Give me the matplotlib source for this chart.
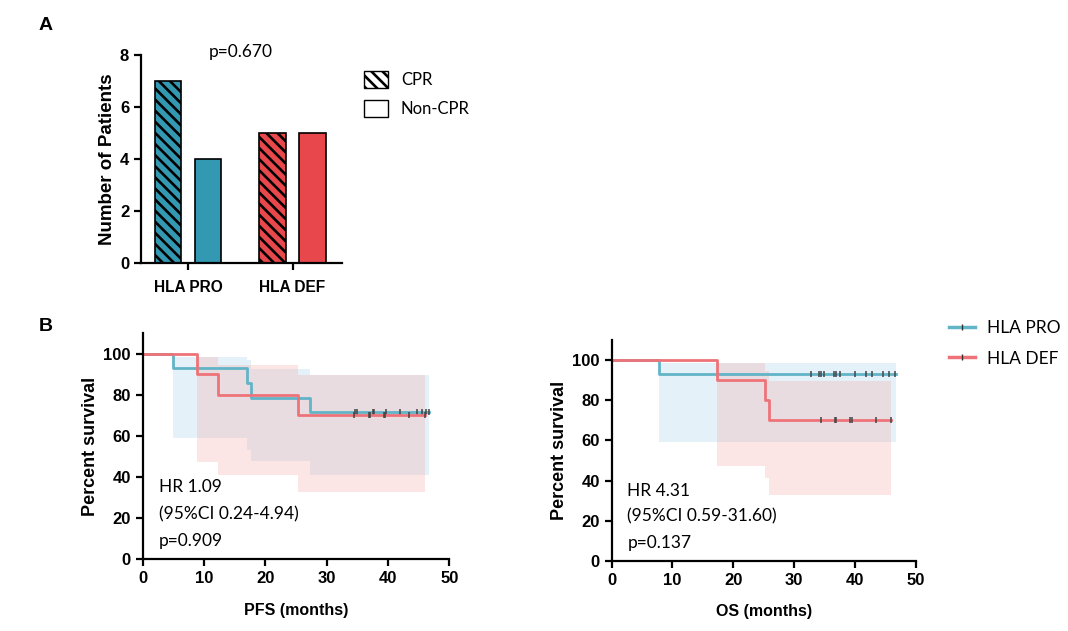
import matplotlib
matplotlib.use("Agg")
import matplotlib.pyplot as plt
from matplotlib.patches import Patch
from matplotlib.lines import Line2D

# ---- data ----
groups = ["HLA PRO", "HLA DEF"]
cpr_counts = [7, 5]
noncpr_counts = [4, 5]

# PFS Kaplan-Meier steps (months, percent)
pfs_pro_times = [0, 4.9, 17.0, 17.6, 27.3]
pfs_pro_surv = [100, 92.9, 85.7, 78.6, 71.4]
pfs_pro_upper = [100, 98.5, 97.0, 92.7, 89.4]
pfs_pro_lower = [100, 59.1, 53.0, 47.8, 41.0]
pfs_pro_end = 46.7
pfs_pro_censor = [34.6, 35.0, 37.5, 37.8, 39.6, 41.9, 44.7, 45.5, 46.2, 46.7]

pfs_def_times = [0, 8.9, 12.3, 25.4]
pfs_def_surv = [100, 90, 80, 70]
pfs_def_upper = [100, 98.5, 94.6, 89.4]
pfs_def_lower = [100, 47.5, 40.9, 32.6]
pfs_def_end = 46.0
pfs_def_censor = [34.4, 36.9, 37.1, 39.3, 39.5, 43.5, 46.0]

# OS Kaplan-Meier steps
os_pro_times = [0, 7.8]
os_pro_surv = [100, 92.9]
os_pro_upper = [100, 98.8]
os_pro_lower = [100, 59.0]
os_pro_end = 46.7
os_pro_censor = [32.8, 34.1, 34.5, 34.9, 36.6, 36.9, 37.5, 40.1, 41.9, 42.9, 44.7, 45.6, 46.6]

os_def_times = [0, 17.3, 25.3, 25.9]
os_def_surv = [100, 90, 80, 70]
os_def_upper = [100, 98.5, 94.6, 89.4]
os_def_lower = [100, 47.3, 41.3, 33.0]
os_def_end = 46.0
os_def_censor = [34.4, 36.7, 36.9, 39.2, 39.5, 43.5, 46.0]

pfs_stats = ["HR 1.09", "(95%CI 0.24-4.94)", "p=0.909"]
os_stats = ["HR 4.31", "(95%CI 0.59-31.60)", "p=0.137"]

# ---- style ----
BAR_PRO = "#3399b3"
BAR_DEF = "#e8474b"
LINE_PRO = "#62b4c7"
LINE_DEF = "#ee7378"
BAND_PRO = "#d3e9f4"
BAND_DEF = "#f5b5b5"
BOLD = "Liberation Sans"
SOFT = "Lato"

plt.rcParams["hatch.linewidth"] = 1.9
plt.rcParams["axes.linewidth"] = 1.6

fig = plt.figure(figsize=(10.68, 6.31), dpi=100)


def style_axes(ax, size=12):
    ax.spines["top"].set_visible(False)
    ax.spines["right"].set_visible(False)
    ax.tick_params(width=1.6, length=5, labelsize=size)
    for lab in ax.get_xticklabels() + ax.get_yticklabels():
        lab.set_fontfamily(BOLD)
        lab.set_fontweight("bold")


# ---- panel A ----
axA = fig.add_axes([0.132, 0.583, 0.188, 0.330])
xs = [1, 2]
off, w = 0.19, 0.255
colors = [BAR_PRO, BAR_DEF]
axA.bar([x - off for x in xs], cpr_counts, w, color=colors, edgecolor="black",
        linewidth=1.2, hatch="\\\\\\")
axA.bar([x + off for x in xs], noncpr_counts, w, color=colors, edgecolor="black",
        linewidth=1.2)
axA.set_xlim(0.55, 2.47)
axA.set_ylim(0, 8)
axA.set_yticks([0, 2, 4, 6, 8])
axA.set_xticks(xs)
axA.set_xticklabels(groups)
style_axes(axA)
for lab in axA.get_xticklabels():
    lab.set_fontsize(11.2)
axA.tick_params(axis="x", pad=7)
axA.set_ylabel("Number of Patients", fontfamily=BOLD, fontweight="bold", fontsize=13.5,
               labelpad=3)
axA.text(1.5, 8.1, "p=0.670", ha="center", va="center", fontfamily=SOFT, fontsize=12.5)
handles = [Patch(facecolor="white", edgecolor="black", hatch="\\\\\\", label="CPR"),
           Patch(facecolor="white", edgecolor="black", label="Non-CPR")]
fig.legend(handles=handles, loc="upper left", bbox_to_anchor=(0.327, 0.912),
           frameon=False, prop={"family": SOFT, "size": 12}, handlelength=1.4,
           handleheight=1.2, labelspacing=0.75, handletextpad=0.8)

fig.text(0.036, 0.96, "A", fontfamily=BOLD, fontweight="bold", fontsize=14, va="center")
fig.text(0.036, 0.483, "B", fontfamily=BOLD, fontweight="bold", fontsize=14, va="center")


def km(ax, times, surv, upper, lower, end, censor, line_color, band_color, alpha):
    tx = list(times) + [end]
    ax.fill_between(tx, list(upper) + [upper[-1]], list(lower) + [lower[-1]],
                    step="post", color=band_color, alpha=alpha, linewidth=0)
    ax.step(tx, list(surv) + [surv[-1]], where="post", color=line_color, lw=2)
    ax.plot(censor, [surv[-1]] * len(censor), linestyle="none", marker="|",
            color="#444444", markersize=5, mew=1.1)


def km_panel(rect, pro, dfn, stats, xlabel, stat_y):
    ax = fig.add_axes(rect)
    km(ax, *pro, LINE_PRO, BAND_PRO, 0.6)
    km(ax, *dfn, LINE_DEF, BAND_DEF, 0.35)
    ax.set_xlim(0, 50)
    ax.set_ylim(0, 110)
    ax.set_xticks([0, 10, 20, 30, 40, 50])
    ax.set_yticks([0, 20, 40, 60, 80, 100])
    style_axes(ax)
    ax.set_ylabel("Percent survival", fontfamily=BOLD, fontweight="bold", fontsize=13,
                  labelpad=3)
    ax.set_xlabel(xlabel, fontfamily=BOLD, fontweight="bold", fontsize=11.5, labelpad=12)
    for i, s in enumerate(stats):
        ax.text(2.6, stat_y - i * 13.0, s, fontfamily=SOFT, fontsize=12.5, va="center")
    return ax


km_panel([0.1336, 0.1136, 0.2871, 0.3587],
         (pfs_pro_times, pfs_pro_surv, pfs_pro_upper, pfs_pro_lower, pfs_pro_end, pfs_pro_censor),
         (pfs_def_times, pfs_def_surv, pfs_def_upper, pfs_def_lower, pfs_def_end, pfs_def_censor),
         pfs_stats, "PFS (months)", 35.0)
km_panel([0.5727, 0.1109, 0.2846, 0.3502],
         (os_pro_times, os_pro_surv, os_pro_upper, os_pro_lower, os_pro_end, os_pro_censor),
         (os_def_times, os_def_surv, os_def_upper, os_def_lower, os_def_end, os_def_censor),
         os_stats, "OS (months)", 35.0)

leg_handles = [Line2D([], [], color=LINE_PRO, lw=2.5, marker="|", markersize=5,
                      markeredgecolor="#333333", label="HLA PRO"),
               Line2D([], [], color=LINE_DEF, lw=2.5, marker="|", markersize=5,
                      markeredgecolor="#333333", label="HLA DEF")]
fig.legend(handles=leg_handles, loc="upper left", bbox_to_anchor=(0.874, 0.518),
           frameon=False, prop={"family": SOFT, "size": 12.5}, handlelength=1.5,
           numpoints=1, labelspacing=0.85, handletextpad=0.7)

fig.savefig("out.png", dpi=100)
